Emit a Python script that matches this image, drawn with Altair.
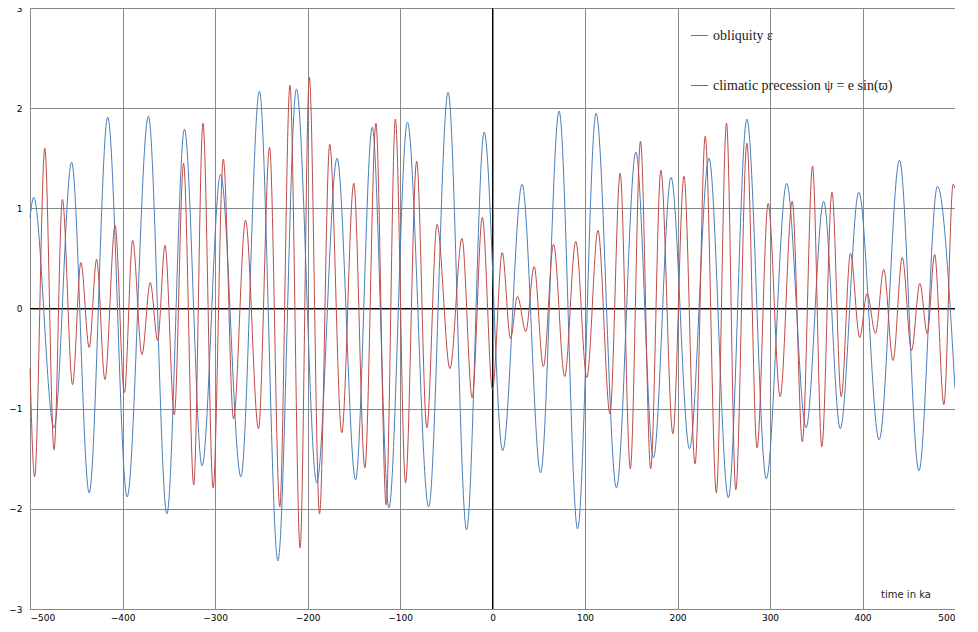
import altair as alt
import pandas as pd

# extrema (time in ka, value)
obl_t = [-500, -496, -474, -455, -436, -416, -395, -372, -352, -333, -314, -294, -272, -252,
         -232, -212, -190, -168, -148, -130, -112, -92, -69, -48, -28, -9,
         11, 32, 52, 72, 92, 112, 134, 155, 174, 193, 213, 234, 255,
         275, 296, 318, 339, 358, 376, 396, 418, 440, 461, 481, 500]
obl_v = [0.91, 1.11, -1.19, 1.46, -1.84, 1.91, -1.88, 1.92, -2.05, 1.79, -1.57, 1.34, -1.68, 2.17,
         -2.52, 2.19, -1.74, 1.50, -1.71, 1.81, -1.99, 1.86, -1.98, 2.16, -2.21, 1.76,
         -1.42, 1.24, -1.64, 1.97, -2.20, 1.95, -1.79, 1.56, -1.49, 1.31, -1.40, 1.50, -1.89,
         1.89, -1.70, 1.25, -1.19, 1.07, -1.20, 1.16, -1.31, 1.48, -1.62, 1.22, -0.80]

pre_t = [-500, -495, -484, -474, -465, -454, -445, -436, -428, -419, -408, -398, -389, -379,
         -370, -362, -354, -344, -334, -323, -313, -302, -291, -280, -267, -253,
         -241, -230, -219, -208, -198, -187, -176, -163, -150, -138, -126, -115, -105,
         -94, -82, -71, -60, -46, -33, -22, -11, 0,
         10.5, 19.5, 27, 36, 45, 55, 66, 78, 90, 102, 114, 127, 138, 149, 160, 171, 182,
         195, 207, 219, 230, 242, 253, 263, 275, 286, 298, 311, 324, 335, 346, 356, 367,
         377, 387, 397, 405, 414, 423, 433, 443, 453, 462, 470, 478, 488, 498, 500]
pre_v = [-0.6, -1.68, 1.60, -1.41, 1.09, -0.76, 0.46, -0.39, 0.49, -0.71, 0.83, -0.84, 0.68, -0.46,
         0.26, -0.32, 0.63, -1.06, 1.45, -1.76, 1.85, -1.79, 1.49, -1.10, 0.88, -1.20,
         1.61, -1.98, 2.23, -2.39, 2.31, -2.05, 1.64, -1.24, 1.25, -1.59, 1.85, -1.96, 1.89,
         -1.74, 1.47, -1.19, 0.84, -0.60, 0.70, -0.89, 0.91, -0.81,
         0.56, -0.30, 0.12, -0.23, 0.42, -0.58, 0.64, -0.68, 0.67, -0.69, 0.78, -1.05, 1.35,
         -1.60, 1.67, -1.60, 1.38, -1.25, 1.32, -1.55, 1.72, -1.84, 1.85, -1.81, 1.65, -1.39,
         1.05, -0.88, 1.07, -1.33, 1.42, -1.38, 1.16, -0.88, 0.55, -0.29, 0.15, -0.25, 0.39,
         -0.52, 0.51, -0.42, 0.25, -0.25, 0.54, -0.96, 1.24, 1.20]

names = ["obliquity ε", "climatic precession ψ = e sin(ϖ)"]
colors = ["#4a7ebb", "#be4b48"]

df = pd.concat([
    pd.DataFrame({"t": obl_t, "v": obl_v, "s": names[0]}),
    pd.DataFrame({"t": pre_t, "v": pre_v, "s": names[1]}),
])

x_ticks = list(range(-500, 501, 100))

lines = alt.Chart(df).mark_line(interpolate="monotone", strokeWidth=1).encode(
    x=alt.X("t:Q", scale=alt.Scale(domain=[-500, 500], nice=False),
            axis=alt.Axis(values=x_ticks, title=None, labelFontSize=9, ticks=False, format="d",
                          domain=False, gridColor="#888", labelPadding=4, labelFont="DejaVu Sans")),
    y=alt.Y("v:Q", scale=alt.Scale(domain=[-3, 3], nice=False),
            axis=alt.Axis(values=[-3, -2, -1, 0, 1, 2, 3], title=None, labelFontSize=9, format="d",
                          ticks=False, domain=False, gridColor="#888", labelPadding=8,
                          labelFont="DejaVu Sans")),
    color=alt.Color("s:N", scale=alt.Scale(domain=names, range=colors),
                    legend=alt.Legend(orient="none", legendX=660, legendY=18, title=None,
                                      symbolType="stroke", symbolSize=300, symbolStrokeWidth=1,
                                      labelFont="Liberation Serif", labelFontSize=14, labelLimit=400,
                                      rowPadding=33, labelColor="#222")),
)

zero_x = alt.Chart(pd.DataFrame({"t": [0]})).mark_rule(color="black", strokeWidth=1).encode(x="t:Q")
zero_y = alt.Chart(pd.DataFrame({"v": [0]})).mark_rule(color="black", strokeWidth=1).encode(y="v:Q")

label = alt.Chart(pd.DataFrame({"txt": ["time in ka"]})).mark_text(
    fontSize=10, font="DejaVu Sans", color="#222").encode(
    x=alt.value(876), y=alt.value(587), text="txt:N")

chart = (zero_x + zero_y + lines + label).properties(
    width=925, height=601, autosize="none",
    padding={"left": 22, "top": 0, "right": 0, "bottom": 20}
).configure_view(stroke="#888")

chart.save("out.html", embed_options={"renderer": "svg", "actions": False})
